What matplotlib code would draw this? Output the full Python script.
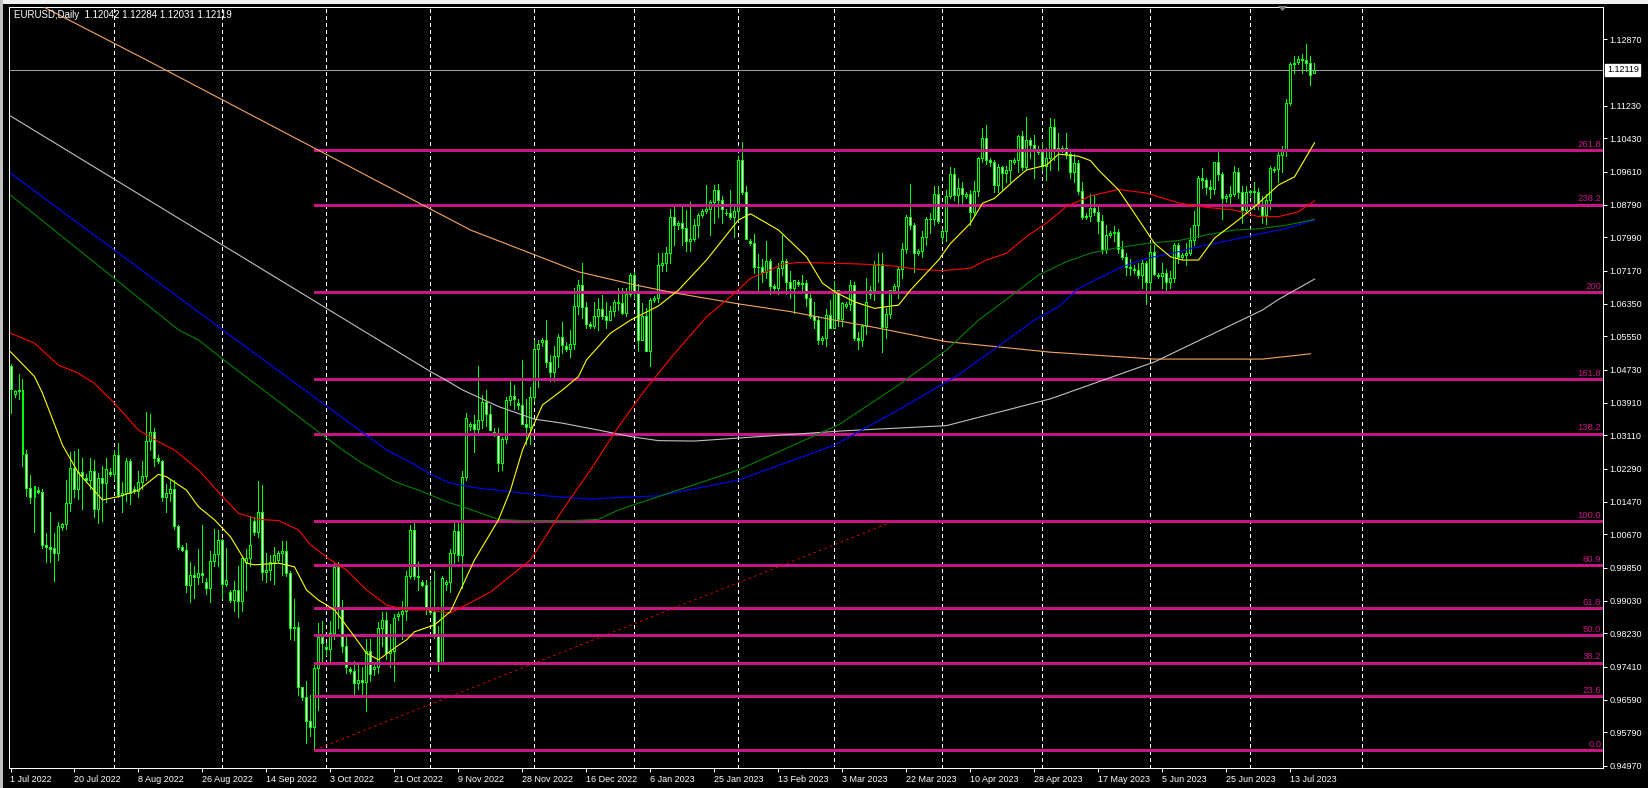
import matplotlib
matplotlib.use('Agg')
import matplotlib.pyplot as plt
import matplotlib.transforms as mtrans
from matplotlib.collections import LineCollection, PolyCollection
from matplotlib.patches import Rectangle, Polygon

plt.rcParams['font.family'] = ['Liberation Sans', 'DejaVu Sans']

# ---------------- data ----------------
title = 'EURUSD,Daily  1.12042 1.12284 1.12031 1.12119'

opens = [
 1.0483, 1.0412, 1.0420, 1.0424, 1.0266, 1.0182, 1.0160,
 1.0176, 1.0172, 1.0040, 1.0036, 1.0034, 1.0020,
 1.0085, 1.0093, 1.0145, 1.0230, 1.0180, 1.0220,
 1.0205, 1.0200, 1.0222, 1.0129, 1.0205, 1.0193,
 1.0220, 1.0215, 1.0262, 1.0165, 1.0170, 1.0248,
 1.0180, 1.0175, 1.0196, 1.0212, 1.0298, 1.0320,
 1.0256, 1.0247, 1.0160, 1.0170, 1.0178, 1.0088,
 1.0035, 1.0028, 0.9943, 0.9967, 0.9963, 0.9971,
 0.9950, 0.9935, 1.0001, 1.0018, 1.0054, 0.9945,
 0.9926, 0.9905, 0.9930, 0.9904, 0.9998, 1.0010,
 1.0100, 1.0072, 1.0122, 0.9974, 0.9980, 0.9998,
 1.0005, 1.0022, 1.0025, 0.9971, 0.9836, 0.9838,
 0.9690, 0.9666, 0.9608, 0.9592, 0.9737, 0.9815,
 0.9790, 0.9785, 0.9825, 0.9986, 0.9885, 0.9793,
 0.9735, 0.9730, 0.9700, 0.9707, 0.9704, 0.9779,
 0.9735, 0.9740, 0.9837, 0.9856, 0.9775, 0.9780,
 0.9865, 0.9870, 0.9877, 0.9965, 1.0078, 0.9965,
 0.9950, 0.9943, 0.9883, 0.9875, 0.9818, 0.9750,
 0.9945, 0.9950, 1.0020, 1.0075, 1.0015, 1.0209,
 1.0335, 1.0340, 1.0326, 1.0350, 1.0394, 1.0363,
 1.0320, 1.0315, 1.0243, 1.0302, 1.0397, 1.0408,
 1.0390, 1.0385, 1.0340, 1.0332, 1.0405, 1.0523,
 1.0540, 1.0545, 1.0491, 1.0467, 1.0507, 1.0554,
 1.0530, 1.0525, 1.0535, 1.0631, 1.0682, 1.0628,
 1.0585, 1.0580, 1.0604, 1.0622, 1.0605, 1.0595,
 1.0617, 1.0640, 1.0638, 1.0612, 1.0660,
 1.0705, 1.0666, 1.0545, 1.0606, 1.0520,
 1.0645, 1.0650, 1.0730, 1.0735, 1.0760, 1.0850,
 1.0830, 1.0835, 1.0822, 1.0790, 1.0795, 1.0830,
 1.0855, 1.0865, 1.0870, 1.0885, 1.0915, 1.0890,
 1.0860, 1.0858, 1.0850, 1.0863, 1.0990, 1.0910,
 1.0790, 1.0785, 1.0727, 1.0726, 1.0713, 1.0740,
 1.0678, 1.0675, 1.0723, 1.0740, 1.0690, 1.0675,
 1.0690, 1.0685, 1.0687, 1.0650, 1.0605, 1.0595,
 1.0545, 1.0550, 1.0607, 1.0575, 1.0670, 1.0598,
 1.0630, 1.0635, 1.0682, 1.0550, 1.0545, 1.0580,
 1.0660, 1.0670, 1.0730, 1.0733, 1.0577, 1.0610,
 1.0670, 1.0680, 1.0720, 1.0770, 1.0850, 1.0830,
 1.0760, 1.0765, 1.0800, 1.0845, 1.0843, 1.0905,
 1.0800, 1.0815, 1.0900, 1.0955, 1.0904, 1.0920,
 1.0900, 1.0905, 1.0862, 1.0913, 1.0995, 1.1045,
 1.0990, 1.0985, 1.0927, 1.0972, 1.0957, 1.0965,
 1.0985, 1.0990, 1.1048, 1.0973, 1.1040, 1.1026,
 1.1015, 1.1010, 1.0975, 1.0995, 1.1072, 1.1012,
 1.1018, 1.1020, 1.1004, 1.0960, 1.0983, 1.0913,
 1.0850, 1.0852, 1.0872, 1.0862, 1.0840, 1.0770,
 1.0805, 1.0810, 1.0813, 1.0770, 1.0750, 1.0725,
 1.0720, 1.0718, 1.0705, 1.0736, 1.0690, 1.0762,
 1.0705, 1.0703, 1.0712, 1.0690, 1.0700, 1.0780,
 1.0750, 1.0755, 1.0760, 1.0792, 1.0830, 1.0945,
 1.0940, 1.0922, 1.0918, 1.0985, 1.0955,
 1.0895, 1.0900, 1.0905, 1.0960, 1.0910, 1.0867,
 1.0910, 1.0912, 1.0910, 1.0880, 1.0855, 1.0890,
 1.0965, 1.0968, 1.1003, 1.1012, 1.1130, 1.1225,
 1.1230, 1.1238, 1.1237, 1.1228, 1.12042]

highs = [
 1.0486, 1.0424, 1.0463, 1.0449, 1.0276, 1.0214, 1.0186,
 1.0183, 1.0178, 1.0070, 1.0122, 1.0070, 1.0097,
 1.0095, 1.0201, 1.0271, 1.0273, 1.0278, 1.0255,
 1.0215, 1.0256, 1.0250, 1.0218, 1.0235, 1.0254,
 1.0230, 1.0274, 1.0293, 1.0195, 1.0254, 1.0253,
 1.0186, 1.0223, 1.0248, 1.0368, 1.0364, 1.0328,
 1.0262, 1.0250, 1.0190, 1.0200, 1.0202, 1.0090,
 1.0040, 1.0046, 0.9999, 0.9988, 1.0030, 1.0090,
 0.9960, 1.0026, 1.0080, 1.0079, 1.0055, 1.0033,
 0.9930, 0.9952, 0.9990, 1.0012, 1.0030, 1.0112,
 1.0110, 1.0198, 1.0188, 1.0020, 1.0017, 1.0036,
 1.0025, 1.0050, 1.0050, 0.9977, 0.9907, 0.9851,
 0.9692, 0.9705, 0.9670, 0.9750, 0.9848, 0.9853,
 0.9800, 0.9853, 0.9999, 0.9999, 0.9905, 0.9822,
 0.9740, 0.9755, 0.9750, 0.9740, 0.9808, 0.9810,
 0.9750, 0.9850, 0.9875, 0.9876, 0.9845, 0.9871,
 0.9875, 0.9902, 0.9977, 1.0089, 1.0094, 0.9998,
 0.9955, 0.9955, 0.9953, 0.9976, 0.9840, 0.9964,
 0.9955, 1.0032, 1.0095, 1.0094, 1.0222, 1.0366,
 1.0345, 1.0360, 1.0481, 1.0410, 1.0424, 1.0387,
 1.0330, 1.0328, 1.0308, 1.0405, 1.0446, 1.0434,
 1.0400, 1.0497, 1.0400, 1.0429, 1.0545, 1.0545,
 1.0550, 1.0595, 1.0510, 1.0530, 1.0560, 1.0590,
 1.0540, 1.0570, 1.0673, 1.0694, 1.0736, 1.0640,
 1.0590, 1.0640, 1.0650, 1.0658, 1.0640, 1.0630,
 1.0645, 1.0675, 1.0674, 1.0675, 1.0712,
 1.0713, 1.0683, 1.0637, 1.0625, 1.0650,
 1.0655, 1.0760, 1.0760, 1.0776, 1.0868, 1.0875,
 1.0840, 1.0874, 1.0867, 1.0887, 1.0845, 1.0860,
 1.0870, 1.0927, 1.0890, 1.0929, 1.0930, 1.0900,
 1.0870, 1.0915, 1.0880, 1.1000, 1.1033, 1.0925,
 1.0795, 1.0806, 1.0757, 1.0745, 1.0790, 1.0745,
 1.0685, 1.0735, 1.0805, 1.0745, 1.0715, 1.0695,
 1.0695, 1.0705, 1.0695, 1.0665, 1.0640, 1.0605,
 1.0555, 1.0622, 1.0645, 1.0691, 1.0670, 1.0640,
 1.0640, 1.0694, 1.0690, 1.0565, 1.0585, 1.0700,
 1.0680, 1.0740, 1.0760, 1.0760, 1.0625, 1.0670,
 1.0685, 1.0725, 1.0785, 1.0855, 1.0930, 1.0835,
 1.0770, 1.0815, 1.0850, 1.0860, 1.0925, 1.0925,
 1.0820, 1.0915, 1.0973, 1.0970, 1.0945, 1.0935,
 1.0910, 1.0915, 1.0938, 1.0998, 1.1068, 1.1075,
 1.0995, 1.0990, 1.0980, 1.0975, 1.0975, 1.0990,
 1.0995, 1.1050, 1.1060, 1.1095, 1.1045, 1.1050,
 1.1025, 1.1035, 1.1018, 1.1092, 1.1090, 1.1055,
 1.1025, 1.1055, 1.1015, 1.1005, 1.0990, 1.0935,
 1.0858, 1.0905, 1.0904, 1.0875, 1.0855, 1.0830,
 1.0815, 1.0828, 1.0820, 1.0790, 1.0760, 1.0745,
 1.0730, 1.0735, 1.0745, 1.0740, 1.0780, 1.0780,
 1.0712, 1.0735, 1.0720, 1.0715, 1.0785, 1.0785,
 1.0760, 1.0785, 1.0823, 1.0865, 1.0950, 1.0970,
 1.0945, 1.0940, 1.0985, 1.1012, 1.0960,
 1.0905, 1.0925, 1.0975, 1.0970, 1.0925, 1.0925,
 1.0915, 1.0935, 1.0920, 1.0900, 1.0905, 1.0975,
 1.0972, 1.1010, 1.1025, 1.1140, 1.1230, 1.1245,
 1.1245, 1.1250, 1.1276, 1.1245, 1.12284]

lows = [
 1.0366, 1.0405, 1.0400, 1.0236, 1.0162, 1.0144, 1.0072,
 1.0168, 1.0034, 0.9999, 0.9998, 0.9952, 1.0005,
 1.0078, 1.0080, 1.0125, 1.0160, 1.0154, 1.0130,
 1.0196, 1.0180, 1.0110, 1.0095, 1.0100, 1.0146,
 1.0212, 1.0200, 1.0160, 1.0123, 1.0150, 1.0141,
 1.0168, 1.0160, 1.0180, 1.0202, 1.0275, 1.0236,
 1.0242, 1.0150, 1.0122, 1.0150, 1.0080, 1.0030,
 1.0025, 0.9926, 0.9900, 0.9910, 0.9945, 0.9950,
 0.9920, 0.9900, 0.9990, 0.9990, 0.9910, 0.9940,
 0.9900, 0.9877, 0.9864, 0.9877, 0.9930, 0.9990,
 1.0065, 1.0060, 0.9955, 0.9950, 0.9955, 0.9945,
 1.0000, 0.9966, 0.9965, 0.9810, 0.9806, 0.9670,
 0.9660, 0.9553, 0.9570, 0.9536, 0.9635, 0.9748,
 0.9770, 0.9750, 0.9808, 0.9836, 0.9778, 0.9725,
 0.9725, 0.9670, 0.9685, 0.9668, 0.9632, 0.9705,
 0.9720, 0.9725, 0.9792, 0.9760, 0.9740, 0.9706,
 0.9855, 0.9808, 0.9855, 0.9960, 0.9956, 0.9930,
 0.9940, 0.9870, 0.9870, 0.9812, 0.9730, 0.9748,
 0.9930, 0.9925, 0.9990, 1.0002, 0.9936, 1.0200,
 1.0325, 1.0270, 1.0320, 1.0330, 1.0333, 1.0325,
 1.0310, 1.0223, 1.0226, 1.0292, 1.0385, 1.0376,
 1.0375, 1.0340, 1.0290, 1.0290, 1.0395, 1.0430,
 1.0530, 1.0480, 1.0445, 1.0445, 1.0480, 1.0515,
 1.0520, 1.0505, 1.0525, 1.0610, 1.0600, 1.0575,
 1.0575, 1.0575, 1.0570, 1.0598, 1.0575, 1.0595,
 1.0605, 1.0620, 1.0610, 1.0605, 1.0655,
 1.0650, 1.0520, 1.0545, 1.0520, 1.0483,
 1.0640, 1.0640, 1.0715, 1.0715, 1.0735, 1.0780,
 1.0820, 1.0780, 1.0766, 1.0765, 1.0790, 1.0800,
 1.0850, 1.0860, 1.0805, 1.0835, 1.0850, 1.0835,
 1.0855, 1.0845, 1.0800, 1.0840, 1.0906, 1.0794,
 1.0780, 1.0710, 1.0669, 1.0690, 1.0700, 1.0660,
 1.0670, 1.0660, 1.0705, 1.0660, 1.0650, 1.0612,
 1.0680, 1.0665, 1.0630, 1.0600, 1.0575, 1.0535,
 1.0535, 1.0530, 1.0575, 1.0575, 1.0580, 1.0580,
 1.0625, 1.0620, 1.0545, 1.0524, 1.0530, 1.0560,
 1.0650, 1.0645, 1.0690, 1.0516, 1.0550, 1.0600,
 1.0665, 1.0650, 1.0700, 1.0760, 1.0820, 1.0713,
 1.0755, 1.0750, 1.0780, 1.0810, 1.0830, 1.0835,
 1.0790, 1.0790, 1.0895, 1.0890, 1.0880, 1.0875,
 1.0895, 1.0830, 1.0855, 1.0900, 1.0985, 1.0980,
 1.0975, 1.0910, 1.0910, 1.0915, 1.0935, 1.0935,
 1.0980, 1.0960, 1.0965, 1.0965, 1.0995, 1.0945,
 1.1005, 1.0965, 1.0940, 1.0965, 1.0990, 1.0965,
 1.1010, 1.0995, 1.0945, 1.0935, 1.0905, 1.0845,
 1.0845, 1.0840, 1.0855, 1.0810, 1.0760, 1.0760,
 1.0800, 1.0790, 1.0760, 1.0745, 1.0705, 1.0705,
 1.0710, 1.0700, 1.0675, 1.0635, 1.0665, 1.0705,
 1.0698, 1.0675, 1.0665, 1.0675, 1.0690, 1.0735,
 1.0745, 1.0730, 1.0755, 1.0780, 1.0800, 1.0920,
 1.0905, 1.0895, 1.0905, 1.0940, 1.0845,
 1.0885, 1.0880, 1.0900, 1.0895, 1.0835, 1.0860,
 1.0900, 1.0870, 1.0870, 1.0835, 1.0833, 1.0870,
 1.0960, 1.0935, 1.0960, 1.1000, 1.1125, 1.1205,
 1.1225, 1.1205, 1.1210, 1.1175, 1.12031]

closes = [
 1.0425, 1.0420, 1.0424, 1.0266, 1.0182, 1.0160, 1.0185,
 1.0172, 1.0040, 1.0036, 1.0030, 1.0020, 1.0087,
 1.0093, 1.0145, 1.0230, 1.0180, 1.0220, 1.0212,
 1.0200, 1.0222, 1.0129, 1.0205, 1.0193, 1.0228,
 1.0215, 1.0262, 1.0165, 1.0170, 1.0248, 1.0168,
 1.0175, 1.0196, 1.0212, 1.0298, 1.0320, 1.0256,
 1.0247, 1.0160, 1.0170, 1.0178, 1.0088, 1.0037,
 1.0028, 0.9943, 0.9967, 0.9963, 0.9971, 0.9966,
 0.9935, 1.0001, 1.0018, 1.0054, 0.9945, 0.9955,
 0.9905, 0.9930, 0.9904, 1.0010, 1.0010, 1.0042,
 1.0072, 1.0122, 0.9974, 0.9980, 0.9998, 1.0015,
 1.0022, 1.0025, 0.9971, 0.9836, 0.9838, 0.9690,
 0.9666, 0.9608, 0.9592, 0.9737, 0.9815, 0.9800,
 0.9785, 0.9825, 0.9986, 0.9885, 0.9793, 0.9740,
 0.9730, 0.9700, 0.9707, 0.9704, 0.9779, 0.9723,
 0.9740, 0.9837, 0.9856, 0.9775, 0.9780, 0.9860,
 0.9870, 0.9877, 0.9965, 1.0078, 0.9965, 0.9963,
 0.9943, 0.9883, 0.9875, 0.9818, 0.9750, 0.9960,
 0.9950, 1.0020, 1.0075, 1.0015, 1.0209, 1.0355,
 1.0340, 1.0326, 1.0350, 1.0394, 1.0363, 1.0325,
 1.0315, 1.0243, 1.0302, 1.0397, 1.0408, 1.0400,
 1.0385, 1.0340, 1.0332, 1.0405, 1.0523, 1.0537,
 1.0545, 1.0491, 1.0467, 1.0507, 1.0554, 1.0533,
 1.0525, 1.0535, 1.0631, 1.0682, 1.0628, 1.0585,
 1.0580, 1.0604, 1.0622, 1.0605, 1.0595, 1.0617,
 1.0640, 1.0638, 1.0612, 1.0660, 1.0705,
 1.0666, 1.0545, 1.0606, 1.0520, 1.0645,
 1.0650, 1.0730, 1.0735, 1.0760, 1.0850, 1.0830,
 1.0835, 1.0822, 1.0790, 1.0795, 1.0830, 1.0855,
 1.0865, 1.0870, 1.0885, 1.0915, 1.0890, 1.0870,
 1.0858, 1.0850, 1.0863, 1.0990, 1.0910, 1.0795,
 1.0785, 1.0727, 1.0726, 1.0713, 1.0740, 1.0678,
 1.0675, 1.0723, 1.0740, 1.0690, 1.0675, 1.0695,
 1.0685, 1.0687, 1.0650, 1.0605, 1.0595, 1.0545,
 1.0550, 1.0607, 1.0575, 1.0670, 1.0598, 1.0636,
 1.0635, 1.0682, 1.0550, 1.0545, 1.0580, 1.0640,
 1.0670, 1.0730, 1.0733, 1.0577, 1.0610, 1.0670,
 1.0680, 1.0720, 1.0770, 1.0850, 1.0830, 1.0760,
 1.0765, 1.0800, 1.0845, 1.0843, 1.0905, 1.0840,
 1.0815, 1.0900, 1.0955, 1.0904, 1.0920, 1.0905,
 1.0905, 1.0862, 1.0913, 1.0995, 1.1045, 1.0990,
 1.0985, 1.0927, 1.0972, 1.0957, 1.0965, 1.0990,
 1.0990, 1.1048, 1.0973, 1.1040, 1.1026, 1.1020,
 1.1010, 1.0975, 1.0995, 1.1072, 1.1012, 1.1018,
 1.1020, 1.1004, 1.0960, 1.0983, 1.0913, 1.0850,
 1.0852, 1.0872, 1.0862, 1.0840, 1.0770, 1.0805,
 1.0810, 1.0813, 1.0770, 1.0750, 1.0725, 1.0723,
 1.0718, 1.0705, 1.0736, 1.0690, 1.0762, 1.0709,
 1.0703, 1.0712, 1.0690, 1.0700, 1.0780, 1.0750,
 1.0755, 1.0760, 1.0792, 1.0830, 1.0945, 1.0940,
 1.0922, 1.0918, 1.0985, 1.0955, 1.0895,
 1.0900, 1.0905, 1.0960, 1.0910, 1.0867, 1.0910,
 1.0912, 1.0910, 1.0880, 1.0855, 1.0890, 1.0970,
 1.0968, 1.1003, 1.1012, 1.1130, 1.1225, 1.1228,
 1.1238, 1.1237, 1.1228, 1.1200, 1.12119]

# moving-average lines sampled from the chart: (bar index, price)
ma_yellow_bars = [0, 6, 8, 13, 17, 23, 27, 32, 37, 39, 44, 47, 51, 55, 59, 61, 67, 71, 74, 77, 81, 86, 89, 92,
                  97, 99, 101, 106, 110, 116, 122, 125, 128, 133, 138, 142, 144, 150, 155, 162, 167, 174, 179,
                  182, 185, 192, 199, 203, 206, 211, 216, 222, 225, 232, 235, 240, 243, 246, 251, 254, 259,
                  262, 267, 270, 272, 277, 281, 286, 290, 293, 297, 301, 307, 312, 317, 321, 326]
ma_yellow_vals = [1.0517, 1.0456, 1.0415, 1.0287, 1.0218, 1.0152, 1.0160, 1.0176, 1.0215, 1.0209, 1.0176,
                  1.0135, 1.0103, 1.0061, 0.9996, 0.9992, 0.9996, 0.9987, 0.9930, 0.9905, 0.9881, 0.9815,
                  0.9774, 0.9758, 0.9794, 0.9807, 0.9827, 0.9844, 0.9877, 1.0004, 1.0103, 1.0176, 1.0275,
                  1.0386, 1.0423, 1.0456, 1.0497, 1.0563, 1.0595, 1.0630, 1.0669, 1.0743, 1.0805, 1.0842,
                  1.0857, 1.0817, 1.0751, 1.0686, 1.0665, 1.0640, 1.0624, 1.0632, 1.0669, 1.0743, 1.0784,
                  1.0834, 1.0883, 1.0895, 1.0940, 1.0965, 1.0977, 1.1004, 1.0999, 1.0988, 1.0965, 1.0916,
                  1.0858, 1.0784, 1.0751, 1.0743, 1.0743, 1.0797, 1.0842, 1.0883, 1.0928, 1.0948, 1.1032]

ma_red_bars = [0, 6, 12, 17, 21, 26, 32, 37, 41, 47, 53, 57, 62, 67, 72, 75, 80, 84, 89, 94, 99, 104, 110,
               120, 130, 138, 145, 152, 158, 162, 165, 174, 181, 185, 189, 193, 197, 207, 213, 221, 227, 233,
               240, 244, 249, 254, 259, 264, 270, 277, 284, 292, 297, 306, 312, 317, 322, 326]
ma_red_vals = [1.0563, 1.0538, 1.0484, 1.0464, 1.0439, 1.0390, 1.0324, 1.0295, 1.0275, 1.0226, 1.0160,
               1.0119, 1.0104, 1.0101, 1.0078, 1.0041, 1.0004, 0.9979, 0.9930, 0.9893, 0.9881, 0.9881,
               0.9873, 0.9925, 1.0004, 1.0127, 1.0226, 1.0332, 1.0415, 1.0464, 1.0501, 1.0603, 1.0661,
               1.0698, 1.0714, 1.0733, 1.0737, 1.0735, 1.0733, 1.0728, 1.0720, 1.0717, 1.0723, 1.0743,
               1.0760, 1.0801, 1.0834, 1.0875, 1.0901, 1.0917, 1.0908, 1.0884, 1.0875, 1.0866, 1.0850,
               1.0850, 1.0862, 1.0889]

ma_green_bars = [0, 42, 47, 55, 83, 88, 96, 102, 110, 113, 122, 134, 147, 152, 157, 162, 182, 207, 222, 234,
                 242, 251, 257, 264, 270, 276, 284, 292, 299, 306, 312, 319, 326]
ma_green_vals = [1.0903, 1.0571, 1.0546, 1.0484, 1.0275, 1.0242, 1.0197, 1.0176, 1.0144, 1.0135, 1.0104,
                 1.0098, 1.0104, 1.0127, 1.0144, 1.0160, 1.0226, 1.0337, 1.0435, 1.0521, 1.0595, 1.0661,
                 1.0706, 1.0739, 1.0760, 1.0772, 1.0784, 1.0791, 1.0805, 1.0817, 1.0820, 1.0829, 1.0843]

ma_blue_bars = [0, 53, 94, 99, 105, 110, 117, 126, 134, 145, 152, 162, 182, 206, 222, 237, 256, 262, 267,
                272, 278, 284, 291, 297, 305, 312, 319, 326]
ma_blue_vals = [1.0957, 1.0571, 1.0275, 1.0250, 1.0216, 1.0193, 1.0181, 1.0171, 1.0162, 1.0154, 1.0158,
                1.0162, 1.0201, 1.0287, 1.0374, 1.0460, 1.0595, 1.0628, 1.0673, 1.0698, 1.0727, 1.0747,
                1.0761, 1.0776, 1.0792, 1.0807, 1.0821, 1.0842]

ma_silver_bars = [0, 105, 108, 113, 122, 131, 138, 147, 155, 162, 171, 208, 234, 260, 286, 313, 317, 326]
ma_silver_vals = [1.1098, 1.0468, 1.0452, 1.0423, 1.0382, 1.0351, 1.0341, 1.0324, 1.0308, 1.0298, 1.0297,
                  1.0322, 1.0335, 1.0401, 1.0492, 1.0620, 1.0646, 1.0696]

ma_orange_bars = [0, 9, 34, 115, 131, 142, 156, 166, 182, 195, 206, 215, 234, 260, 286, 313, 325]
ma_orange_vals = [1.1412, 1.1363, 1.1236, 1.0817, 1.0756, 1.0714, 1.0682, 1.0662, 1.0635, 1.0616, 1.0595,
                  1.0579, 1.0542, 1.0516, 1.0499, 1.0499, 1.0512]

# Fibonacci object
fib_low, fib_high = 0.95357, 1.0100
fib_start_bar, fib_end_bar = 76, 221
fib_levels = [0.0, 23.6, 38.2, 50.0, 61.8, 80.9, 100.0, 138.2, 161.8, 200.0, 238.2, 261.8]
fib_labels = ['0.0', '23.6', '38.2', '50.0', '61.8', '80.9', '100.0', '138.2', '161.8', '200', '238.2', '261.8']

# axes labels
price_ticks = ['1.12870', '1.11230', '1.10430', '1.09610', '1.08790', '1.07990', '1.07170', '1.06350',
               '1.05550', '1.04730', '1.03910', '1.03110', '1.02290', '1.01470', '1.00670', '0.99850',
               '0.99030', '0.98230', '0.97410', '0.96590', '0.95790', '0.94970']
date_tick_bars = [0, 16, 32, 48, 64, 80, 96, 112, 128, 144, 160, 176, 192, 208, 224, 240, 256, 272, 288, 304, 320]
date_tick_labels = ['1 Jul 2022', '20 Jul 2022', '8 Aug 2022', '26 Aug 2022', '14 Sep 2022', '3 Oct 2022',
                    '21 Oct 2022', '9 Nov 2022', '28 Nov 2022', '16 Dec 2022', '6 Jan 2023', '25 Jan 2023',
                    '13 Feb 2023', '3 Mar 2023', '22 Mar 2023', '10 Apr 2023', '28 Apr 2023', '17 May 2023',
                    '5 Jun 2023', '25 Jun 2023', '13 Jul 2023']
month_grid_bars = [26, 53, 79, 105, 131, 156, 182, 206, 233, 258, 285, 310, 338]
current_price = 1.12119

# ---------------- figure ----------------
W, H, DPI = 1648, 788, 100
PX = 72.0 / DPI
L, R, T, B = 9, 1603, 7, 768

fig = plt.figure(figsize=(W / DPI, H / DPI), dpi=DPI, facecolor='black')
ax = fig.add_axes([L / W, 1 - B / H, (R - L) / W, (B - T) / H])
ax.set_facecolor('black')
ax.set_xlim(-0.375, 398.125)
ax.set_ylim(0.94913, 1.13666)

for s in ax.spines.values():
    s.set_color('white')
    s.set_linewidth(PX)

# vertical month grid
ax.vlines(month_grid_bars, 0.94913, 1.13666, colors='white', linewidth=PX,
          linestyles=(0, (4, 3)), zorder=1, antialiased=False)

# bid line
ax.axhline(current_price, color='#a0a0a0', lw=PX, zorder=2, antialiased=False)

# candles
n = len(closes)
wicks = [((i, lows[i]), (i, highs[i])) for i in range(n)]
ax.add_collection(LineCollection(wicks, colors='#00ff00', linewidths=PX, antialiased=False, zorder=3))
bodies, faces = [], []
for i in range(n):
    o, c = opens[i], closes[i]
    lo, hi = min(o, c), max(o, c)
    bodies.append([(i - 0.25, lo), (i + 0.25, lo), (i + 0.25, hi), (i - 0.25, hi)])
    faces.append('black' if c >= o else 'white')
ax.add_collection(PolyCollection(bodies, facecolors=faces, edgecolors='#00ff00',
                                 linewidths=PX, antialiased=False, zorder=4))

# Fibonacci levels
fib_col = '#c71585'
span = fib_high - fib_low
for lev, lab in zip(fib_levels, fib_labels):
    p = fib_low + span * lev / 100.0
    ax.hlines(p, fib_start_bar, 398.125, colors=fib_col, linewidth=1.9, zorder=5, antialiased=False)
    ax.text(397.7, p + 0.0003, lab, color=fib_col, fontsize=6.8, ha='right', va='bottom', zorder=8)
ax.plot([fib_start_bar, fib_end_bar], [fib_low, fib_high], color='#ff0000', lw=0.6,
        ls=(0, (3, 4)), zorder=6, antialiased=True)

# moving averages
for bx, vy, col in [(ma_orange_bars, ma_orange_vals, '#f4a460'),
                    (ma_silver_bars, ma_silver_vals, '#c0c0c0'),
                    (ma_blue_bars, ma_blue_vals, '#0000ff'),
                    (ma_green_bars, ma_green_vals, '#008000'),
                    (ma_red_bars, ma_red_vals, '#ff0000'),
                    (ma_yellow_bars, ma_yellow_vals, '#ffff00')]:
    ax.plot(bx, vy, color=col, lw=0.8, zorder=7, antialiased=True, solid_joinstyle='round')

# axes ticks / labels
ax.yaxis.tick_right()
ax.set_yticks([float(t) for t in price_ticks])
ax.set_yticklabels(price_ticks)
ax.tick_params(axis='y', colors='white', length=4 * PX, width=PX, pad=2, labelsize=6.5)
ax.set_xticks(date_tick_bars)
ax.set_xticklabels(date_tick_labels)
ax.tick_params(axis='x', colors='white', length=4 * PX, width=PX, pad=2, labelsize=6.5)
for t in ax.get_xticklabels():
    t.set_ha('left')

# current price box
btr = mtrans.blended_transform_factory(ax.transAxes, ax.transData)
ax.text(1.0 + 4 / (R - L), current_price, f'{current_price:.5f}', transform=btr, ha='left', va='center',
        color='black', fontsize=6.5, clip_on=False, zorder=10,
        bbox=dict(boxstyle='square,pad=0.18', fc='white', ec='white'))

# title
fig.text(14 / W, 1 - 15.5 / H, title, color='white', fontsize=7, ha='left', va='center')

# window chrome strips and chart-shift marker
fig.patches.append(Rectangle((0, 1 - 4 / H), 1, 4 / H, transform=fig.transFigure,
                             fc='#f0f0f0', ec='none', zorder=0))
fig.patches.append(Rectangle((0, 0), 3 / W, 1, transform=fig.transFigure,
                             fc='#c0c0c0', ec='none', zorder=0))
fig.patches.append(Polygon([(1278 / W, 1 - 6 / H), (1287 / W, 1 - 6 / H), (1282.5 / W, 1 - 11 / H)],
                           closed=True, transform=fig.transFigure, fc='#808080', ec='none'))

fig.savefig('out.png', dpi=DPI, facecolor='black')
